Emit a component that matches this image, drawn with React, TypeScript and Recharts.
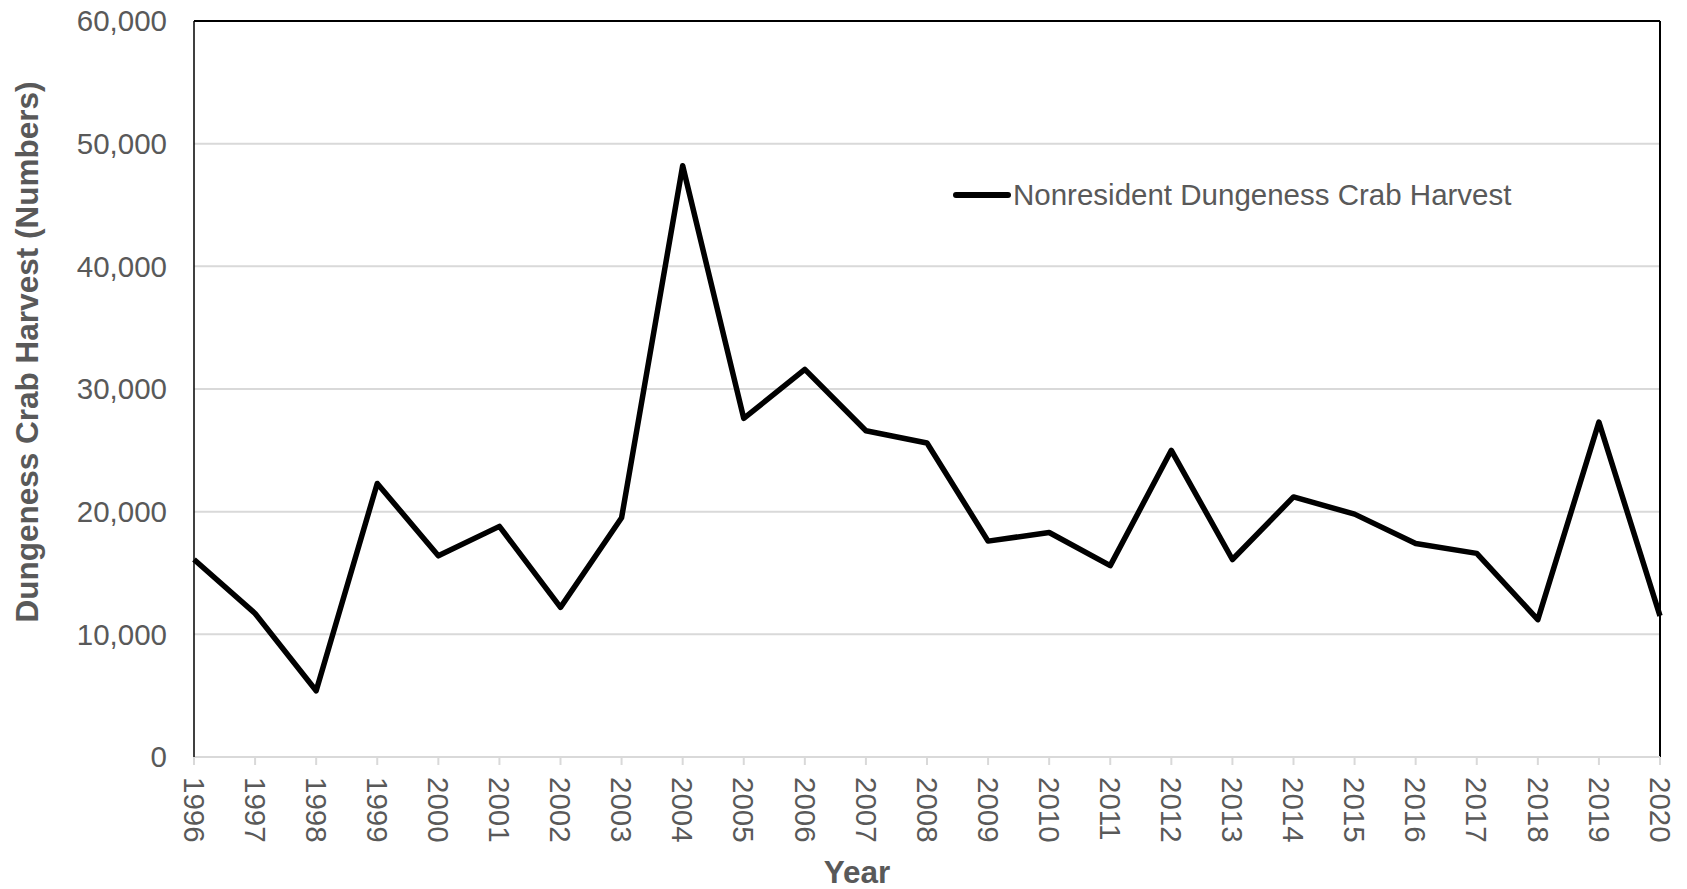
import { LineChart, Line, XAxis, YAxis, CartesianGrid, Legend, ReferenceLine } from "recharts";

const years = [
  1996, 1997, 1998, 1999, 2000, 2001, 2002, 2003, 2004, 2005, 2006, 2007, 2008,
  2009, 2010, 2011, 2012, 2013, 2014, 2015, 2016, 2017, 2018, 2019, 2020,
];

// nonresident harvest
const harvest = [
  16100, 11700, 5400, 22300, 16400, 18800, 12200, 19500, 48200, 27600, 31600,
  26600, 25600, 17600, 18300, 15600, 25000, 16100, 21200, 19800, 17400, 16600,
  11200, 27300, 11500,
];

const yTicks = [0, 10000, 20000, 30000, 40000, 50000, 60000];

const seriesName = "Nonresident Dungeness Crab Harvest";
const yTitle = "Dungeness Crab Harvest (Numbers)";
const xTitle = "Year";

const FONT = '"Liberation Sans", Arial, sans-serif';
const GREY_TEXT = "#595959";
const GRID = "#d9d9d9";

const rows = years.map((year, i) => ({ year, harvest: harvest[i] }));

function YearTick(props: any) {
  const { x, y, payload } = props;
  return (
    <text
      x={x}
      y={y}
      dy="0.35em"
      textAnchor="start"
      transform={`rotate(90 ${x} ${y})`}
      fontFamily={FONT}
      fontSize={29.5}
      fill={GREY_TEXT}
    >
      {payload.value}
    </text>
  );
}

function LegendBox(props: any) {
  const item = props.payload?.[0];
  if (!item) return null;
  return (
    <div style={{ display: "flex", alignItems: "center", fontFamily: FONT, fontSize: 29.5, color: GREY_TEXT }}>
      <svg width={60} height={12} style={{ display: "block" }}>
        <line x1={4} y1={6} x2={56} y2={6} stroke="#000" strokeWidth={6} strokeLinecap="round" />
      </svg>
      <span style={{ marginLeft: 1, lineHeight: "32px" }}>{item.value}</span>
    </div>
  );
}

export default function App() {
  return (
    <div style={{ position: "absolute", left: 0, top: 0, width: 1687, height: 889, background: "#fff" }}>
      <LineChart
        width={1687}
        height={889}
        data={rows}
        margin={{ top: 21, right: 27, left: 0, bottom: 32 }}
      >
        <CartesianGrid vertical={false} stroke={GRID} strokeWidth={2} />
        <XAxis
          dataKey="year"
          height={100}
          stroke={GRID}
          strokeWidth={2}
          tickSize={8}
          tickMargin={12}
          tickLine={{ stroke: GRID, strokeWidth: 2 }}
          interval={0}
          tick={<YearTick />}
          label={{
            content: () => (
              <text x={857} y={883} textAnchor="middle" fontFamily={FONT} fontSize={31.5} fontWeight="bold" fill={GREY_TEXT}>
                {xTitle}
              </text>
            ),
          }}
        />
        <YAxis
          width={194}
          domain={[0, 60000]}
          ticks={yTicks}
          interval={0}
          axisLine={{ stroke: "#000", strokeWidth: 1.5 }}
          tickLine={false}
          tickSize={0}
          tickMargin={27}
          tickFormatter={(v: number) => v.toLocaleString("en-US")}
          tick={{ fontFamily: FONT, fontSize: 29.5, fill: GREY_TEXT }}
          label={{
            content: () => (
              <text
                x={27}
                y={352}
                dy="0.35em"
                textAnchor="middle"
                transform="rotate(-90 27 352)"
                fontFamily={FONT}
                fontSize={31.5}
                fontWeight="bold"
                fill={GREY_TEXT}
              >
                {yTitle}
              </text>
            ),
          }}
        />
        <ReferenceLine y={60000} stroke="#000" strokeWidth={2} />
        <ReferenceLine x={2020} stroke="#000" strokeWidth={2} />
        <Legend
          layout="horizontal"
          verticalAlign="middle"
          align="center"
          content={<LegendBox />}
          wrapperStyle={{ position: "absolute", left: 952, top: 179, width: 620 }}
        />
        <Line
          type="linear"
          dataKey="harvest"
          name={seriesName}
          stroke="#000"
          strokeWidth={5.5}
          strokeLinejoin="round"
          dot={false}
          activeDot={false}
          isAnimationActive={false}
        />
      </LineChart>
    </div>
  );
}
